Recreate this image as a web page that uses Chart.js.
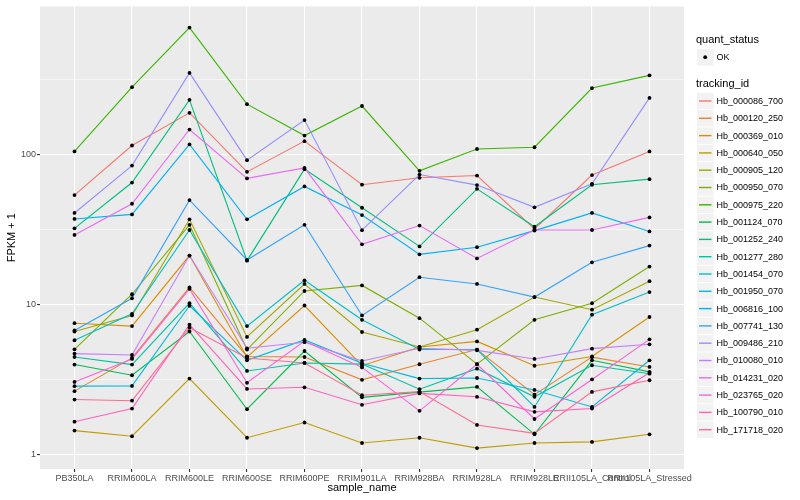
<!DOCTYPE html>
<html>
<head>
<meta charset="utf-8">
<script src="https://cdn.jsdelivr.net/npm/chart.js@4.4.1/dist/chart.umd.min.js"></script>
<style>
  html, body { margin: 0; padding: 0; background: #fff; }
  #wrap { width: 800px; height: 500px; }
</style>
</head>
<body>
<div id="wrap"><canvas id="chart" width="800" height="500"></canvas></div>
<script>
// categories (x axis)
const sampleNames = [
  "PB350LA", "RRIM600LA", "RRIM600LE", "RRIM600SE", "RRIM600PE", "RRIM901LA",
  "RRIM928BA", "RRIM928LA", "RRIM928LE", "RRII105LA_Control", "RRII105LA_Stressed",
];

// y axis breaks (log10), majors get a label
const yTicks = [1, 3.162, 10, 31.62, 100, 316.2];
const yTickLabels = ["1", "", "10", "", "100", ""];

const trackingIds = [
  "Hb_000086_700", "Hb_000120_250", "Hb_000369_010", "Hb_000640_050", "Hb_000905_120",
  "Hb_000950_070", "Hb_000975_220", "Hb_001124_070", "Hb_001252_240", "Hb_001277_280",
  "Hb_001454_070", "Hb_001950_070", "Hb_006816_100", "Hb_007741_130", "Hb_009486_210",
  "Hb_010080_010", "Hb_014231_020", "Hb_023765_020", "Hb_100790_010", "Hb_171718_020",
];

// ggplot default hue palette for 20 groups
const lineColors = [
  "#F8766D", "#EA8331", "#D89000", "#C09B00", "#A3A500",
  "#7CAE00", "#39B600", "#00BB4E", "#00BF7D", "#00C1A3",
  "#00BFC4", "#00BAE0", "#00B0F6", "#35A2FF", "#9590FF",
  "#C77CFF", "#E76BF3", "#FA62DB", "#FF62BC", "#FF6C91",
];

// FPKM + 1 per sample
const hb000086 = [53.7, 115, 190, 76.7, 123, 63, 70, 72.5, 31.9, 73, 105];
const hb000120 = [2.64, 4.4, 13.0, 4.5, 4.46, 3.14, 3.99, 5.0, 2.5, 4.45, 3.83];
const hb000369 = [7.5, 7.17, 21.2, 4.45, 9.84, 3.9, 5.2, 5.67, 3.9, 4.5, 8.25];
const hb000640 = [1.44, 1.32, 3.2, 1.29, 1.63, 1.19, 1.29, 1.1, 1.19, 1.21, 1.36];
const hb000905 = [6.6, 8.45, 37, 6.07, 13.7, 6.55, 5.2, 6.79, 11.2, 9.23, 14.3];
const hb000950 = [5.02, 11.7, 34, 5.0, 12.3, 13.4, 8.1, 4.0, 7.9, 10.2, 17.9];
const hb000975 = [105, 282, 704, 217, 134, 211, 78, 109, 112, 278, 338];
const hb001124 = [3.97, 3.37, 6.6, 2.0, 4.89, 2.4, 2.6, 2.82, 1.36, 4.24, 3.55];
const hb001252 = [32.2, 65.1, 232, 19.6, 80, 44.2, 24.4, 59.1, 33, 62.9, 68.6];
const hb001277 = [4.46, 3.97, 10.2, 3.6, 4.07, 4.0, 2.72, 3.73, 2.42, 3.93, 3.45];
const hb001454 = [5.77, 8.66, 31.4, 7.17, 14.5, 7.9, 5.0, 5.0, 2.07, 8.55, 12.1];
const hb001950 = [2.85, 2.86, 9.8, 4.24, 5.8, 4.05, 3.2, 3.23, 2.69, 2.07, 4.24];
const hb006816 = [37.2, 39.9, 117, 37, 61.3, 39.5, 21.6, 24.1, 31.1, 40.8, 30.7];
const hb007741 = [6.7, 11.0, 49.7, 19.8, 34, 8.45, 15.2, 13.7, 11.2, 19.1, 24.7];
const hb009486 = [40.8, 84.5, 351, 91.8, 170, 31.3, 73.6, 62.6, 44.5, 63.8, 239];
const hb010080 = [4.7, 4.6, 21.2, 5.1, 5.6, 4.2, 5.1, 4.94, 4.33, 5.07, 5.42];
const hb014231 = [29.1, 47, 147, 69.4, 81.6, 25.2, 33.6, 20.3, 31.4, 31.4, 38.1];
const hb023765 = [3.04, 4.33, 12.7, 3.0, 5.7, 3.8, 1.95, 3.99, 1.72, 3.16, 5.85];
const hb100790 = [1.65, 2.02, 7.33, 2.73, 2.8, 2.14, 2.55, 2.42, 1.92, 2.02, 3.5];
const hb171718 = [2.32, 2.28, 7.0, 4.39, 4.07, 2.48, 2.62, 1.57, 1.38, 2.61, 3.12];

const seriesValues = [
  hb000086, hb000120, hb000369, hb000640, hb000905, hb000950, hb000975,
  hb001124, hb001252, hb001277, hb001454, hb001950, hb006816, hb007741,
  hb009486, hb010080, hb014231, hb023765, hb100790, hb171718,
];

const FONT = "'Liberation Sans', Arial, Helvetica, sans-serif";

function toPoints(values) {
  return values.map((v, j) => ({ x: j, y: v }));
}

// lines first (group order like ggplot), dots on top
const lineSets = seriesValues.map((vals, i) => ({
  label: trackingIds[i],
  data: toPoints(vals),
  borderColor: lineColors[i],
  borderWidth: 1.1,
  pointRadius: 0,
  fill: false,
  tension: 0,
  order: 100 - i,
}));

const dotSets = seriesValues.map((vals, i) => ({
  label: trackingIds[i] + " OK",
  data: toPoints(vals),
  showLine: false,
  pointRadius: 1.9,
  pointBackgroundColor: "#000000",
  pointBorderWidth: 0,
  order: 1,
}));

const panelBg = {
  id: "panelBg",
  beforeDraw(chart) {
    const { ctx, chartArea: a } = chart;
    ctx.save();
    ctx.fillStyle = "#FFFFFF";
    ctx.fillRect(0, 0, chart.width, chart.height);
    ctx.fillStyle = "#EBEBEB";
    ctx.fillRect(a.left, a.top, a.right - a.left, a.bottom - a.top);
    ctx.restore();
  },
};

// two-part legend like ggplot (quant_status + tracking_id)
const ggLegend = {
  id: "ggLegend",
  afterDraw(chart) {
    const ctx = chart.ctx;
    const x0 = 697;
    ctx.save();
    ctx.fillStyle = "#000";
    ctx.textBaseline = "alphabetic";
    ctx.font = "11px " + FONT;
    ctx.fillText("quant_status", 696, 43);

    ctx.fillStyle = "#F2F2F2";
    ctx.fillRect(x0, 49, 16.5, 16.5);
    ctx.fillStyle = "#000";
    ctx.beginPath();
    ctx.arc(x0 + 8.2, 57.2, 1.9, 0, Math.PI * 2);
    ctx.fill();
    ctx.font = "9px " + FONT;
    ctx.textBaseline = "middle";
    ctx.fillText("OK", 716.5, 57.5);

    ctx.textBaseline = "alphabetic";
    ctx.font = "11px " + FONT;
    ctx.fillText("tracking_id", 696, 87);

    ctx.font = "9px " + FONT;
    ctx.textBaseline = "middle";
    trackingIds.forEach((id, i) => {
      const cy = 101 + i * 17.3;
      ctx.fillStyle = "#F2F2F2";
      ctx.fillRect(x0, cy - 8.2, 16.5, 16.4);
      ctx.strokeStyle = lineColors[i];
      ctx.lineWidth = 1.4;
      ctx.beginPath();
      ctx.moveTo(x0 + 2, cy);
      ctx.lineTo(x0 + 14.5, cy);
      ctx.stroke();
      ctx.fillStyle = "#000";
      ctx.fillText(id, 716.5, cy + 0.5);
    });
    ctx.restore();
  },
};

new Chart(document.getElementById("chart"), {
  type: "line",
  data: { datasets: [...lineSets, ...dotSets] },
  options: {
    responsive: false,
    animation: false,
    devicePixelRatio: 1,
    layout: { padding: { left: 0, right: 116, top: 5, bottom: 0 } },
    plugins: { legend: { display: false }, tooltip: { enabled: false } },
    scales: {
      x: {
        type: "linear",
        min: -0.6,
        max: 10.6,
        afterBuildTicks: (scale) => {
          scale.ticks = sampleNames.map((_, i) => ({ value: i }));
        },
        afterFit: (scale) => {
          scale.height = 31;
        },
        ticks: {
          autoSkip: false,
          maxRotation: 0,
          minRotation: 0,
          padding: 1,
          color: "#4D4D4D",
          font: { family: FONT, size: 9 },
          callback: (v, i) => sampleNames[i],
        },
        grid: {
          color: "#FFFFFF",
          lineWidth: 1.1,
          tickColor: "#333333",
          tickLength: 3,
          tickWidth: 1.1,
        },
        border: { display: false },
        title: {
          display: true,
          text: "sample_name",
          color: "#000",
          font: { family: FONT, size: 11 },
          padding: { top: 0, bottom: 5 },
        },
      },
      y: {
        type: "logarithmic",
        min: 0.798,
        max: 975,
        afterBuildTicks: (scale) => {
          scale.ticks = yTicks.map((v) => ({ value: v }));
        },
        afterFit: (scale) => {
          scale.width = 40;
        },
        ticks: {
          autoSkip: false,
          padding: 1,
          color: "#4D4D4D",
          font: { family: FONT, size: 9 },
          callback: (v, i) => yTickLabels[i],
        },
        grid: {
          color: "#FFFFFF",
          lineWidth: (c) => (yTickLabels[c.index] ? 1.1 : 0.55),
          tickColor: (c) => (yTickLabels[c.index] ? "#333333" : "rgba(0,0,0,0)"),
          tickLength: 3,
          tickWidth: 1.1,
        },
        border: { display: false },
        title: {
          display: true,
          text: "FPKM + 1",
          color: "#000",
          font: { family: FONT, size: 11 },
          padding: { top: 5, bottom: 5 },
        },
      },
    },
  },
  plugins: [panelBg, ggLegend],
});
</script>
</body>
</html>
